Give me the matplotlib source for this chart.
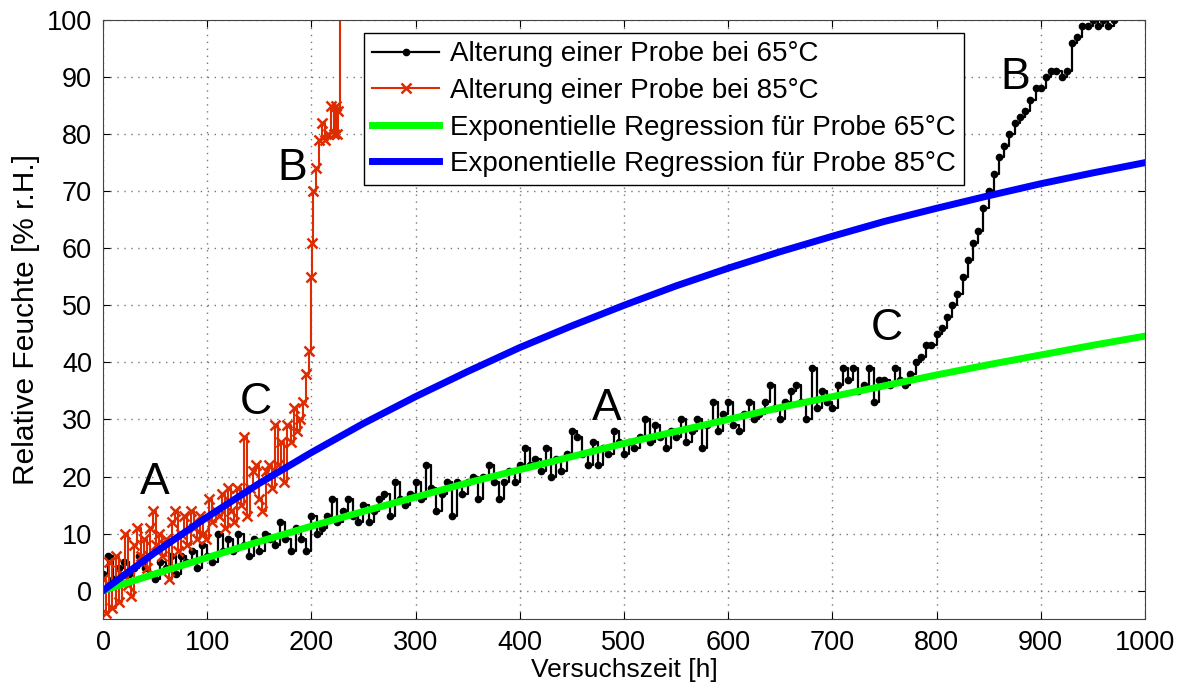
import numpy as np
import matplotlib.pyplot as plt

plt.rcParams['font.family'] = ['Liberation Sans', 'DejaVu Sans']

# Probe 65 °C (Messwerte, alle 5 h)
t65 = np.arange(0, 975, 5)
rh65 = [3, 6, 2, 4, 5, 3, 4, 6, 4, 3, 2, 5, 4, 6, 3, 6, 5, 7, 4, 8,
        6, 5, 10, 7, 9, 7, 10, 8, 6, 9, 7, 10, 9, 8, 12, 9, 7, 11, 9, 7,
        13, 10, 11, 13, 16, 12, 14, 16, 13, 12, 15, 12, 14, 16, 17, 13, 19, 16, 15, 17,
        19, 16, 22, 18, 14, 17, 19, 13, 19, 17, 19, 20, 16, 20, 22, 19, 16, 19, 21, 19,
        22, 25, 22, 23, 21, 25, 20, 23, 21, 24, 28, 27, 24, 22, 26, 22, 25, 24, 28, 26,
        24, 26, 25, 27, 30, 26, 29, 27, 25, 28, 27, 30, 26, 28, 30, 25, 29, 33, 28, 31,
        33, 29, 28, 31, 33, 30, 31, 33, 36, 32, 30, 33, 35, 36, 33, 30, 39, 32, 35, 33,
        32, 36, 39, 37, 39, 35, 36, 39, 33, 37, 37, 36, 39, 37, 36, 38, 40, 41, 43, 43,
        45, 46, 48, 50, 52, 55, 58, 61, 63, 67, 70, 73, 76, 78, 80, 82, 83, 84, 86, 88,
        88, 90, 91, 91, 90, 91, 96, 97, 99, 99, 100, 99, 100, 99, 100]

# Probe 85 °C (Messwerte)
t85 = [0, 3, 6, 9, 12, 15, 18, 21, 24, 27, 30, 33, 36, 39, 42, 45, 48, 51, 54, 57,
       60, 63, 66, 69, 72, 75, 78, 81, 84, 87, 90, 93, 96, 99, 102, 105, 108, 111, 114, 117,
       120, 123, 126, 129, 132, 135, 138, 141, 144, 147, 150, 153, 156, 159, 162, 165, 168, 171, 174, 177,
       180, 183, 186, 189, 192, 195, 198, 200, 201, 202, 204, 207, 210, 213, 216, 219, 222, 224, 225, 226, 227]
rh85 = [2, -4, 5, -3, 6, -2, 3, 10, 1, -1, 8, 11, 6, 9, 4, 11, 14, 8, 10, 6,
        9, 2, 12, 14, 7, 10, 13, 8, 14, 11, 9, 13, 10, 9, 16, 12, 14, 13, 17, 11,
        18, 14, 12, 18, 15, 27, 13, 18, 21, 22, 16, 14, 21, 22, 18, 29, 22, 26, 19, 29,
        26, 32, 28, 30, 33, 38, 42, 55, 61, 70, 74, 79, 82, 79, 80, 85, 80, 85, 80, 84, 110]

# Exponentielle Regression (alle 50 h)
t_fit = np.arange(0, 1001, 50)
fit65 = [0, 2.95, 5.8, 8.6, 11.3, 13.9, 16.4, 18.9, 21.2, 23.5, 25.8,
         27.9, 30.0, 32.1, 34.0, 35.9, 37.8, 39.6, 41.3, 43.0, 44.6]
fit85 = [0, 6.7, 12.9, 18.8, 24.2, 29.3, 34.0, 38.4, 42.6, 46.4, 50.0,
         53.4, 56.5, 59.4, 62.1, 64.7, 67.0, 69.2, 71.3, 73.2, 75.0]

# Bereichsmarken
marks = ['A', 'C', 'B', 'A', 'C', 'B']
mark_x = [50, 147, 182, 483, 752, 876]
mark_y = [19, 33, 74, 32, 46, 90]

fig = plt.figure(figsize=(11.84, 6.88), dpi=100)
ax = fig.add_axes([0.087, 0.100, 0.880, 0.871])

ax.plot(t65, rh65, color='black', marker='.', markersize=9, linewidth=1.6,
        drawstyle='steps-post', label='Alterung einer Probe bei 65°C')
ax.plot(t85, rh85, color='#de2c00', marker='x', markersize=7, markeredgewidth=1.8,
        linewidth=1.5, drawstyle='steps-post', label='Alterung einer Probe bei 85°C')
ax.plot(t_fit, fit65, color='#00ff00', linewidth=5,
        label='Exponentielle Regression für Probe 65°C')
ax.plot(t_fit, fit85, color='#0000ff', linewidth=5,
        label='Exponentielle Regression für Probe 85°C')

for m, x, y in zip(marks, mark_x, mark_y):
    ax.text(x, y, m, fontsize=32, ha='center', va='center')

ax.set_xlim(0, 1000)
ax.set_ylim(-5, 100)
ax.set_xticks(np.arange(0, 1001, 100))
ax.set_yticks(np.arange(0, 101, 10))
ax.tick_params(direction='in', top=True, right=True, labelsize=19.5, length=5, pad=8)
ax.grid(True, linestyle=(0, (1, 4)), color='#777777', linewidth=1)
for s in ax.spines.values():
    s.set_color('#444444')

ax.set_xlabel('Versuchszeit [h]', fontsize=19, labelpad=1)
ax.set_ylabel('Relative Feuchte [% r.H.]', fontsize=21.5, labelpad=5)

leg = ax.legend(loc='upper left', bbox_to_anchor=(0.2505, 0.978), fontsize=20,
                handlelength=2.4, fancybox=False, framealpha=1, edgecolor='black',
                borderpad=0.3, labelspacing=0.38, handletextpad=0.4, borderaxespad=0)
leg.get_frame().set_linewidth(1)

plt.savefig('out.png')
